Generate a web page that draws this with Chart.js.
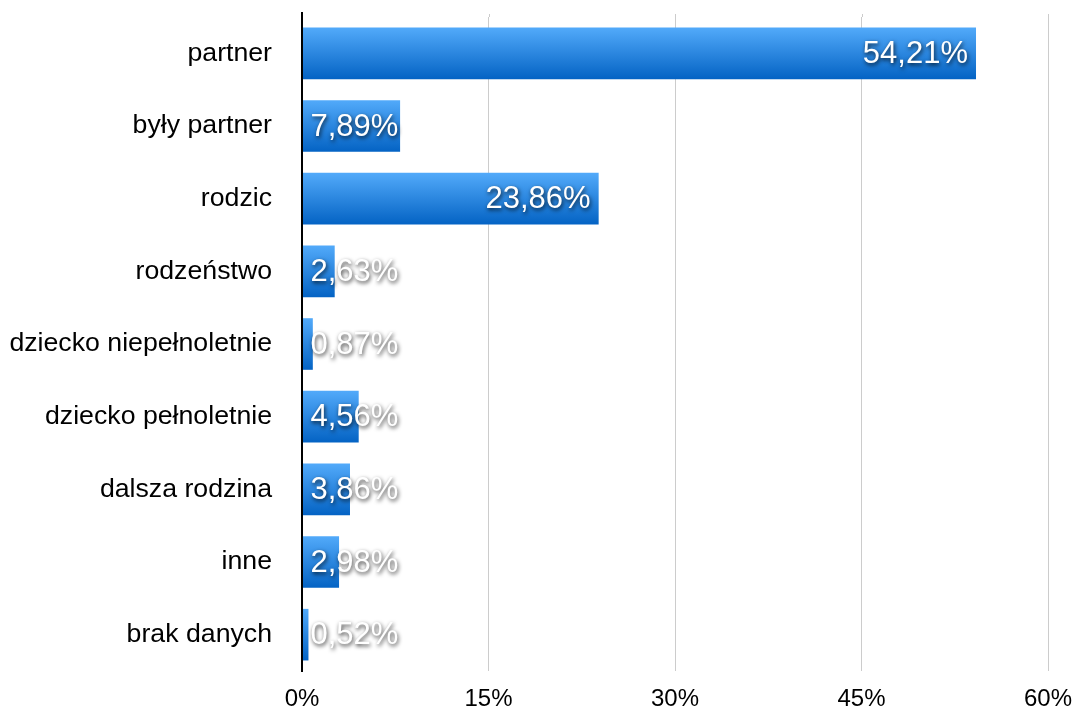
<!DOCTYPE html>
<html>
<head>
<meta charset="utf-8">
<script src="https://cdn.jsdelivr.net/npm/chart.js@4.4.0/dist/chart.umd.min.js"></script>
<style>
html,body{margin:0;padding:0;background:#fff;}
#wrap{width:1077px;height:710px;}
</style>
</head>
<body>
<div id="wrap"><canvas id="c" width="1077" height="710"></canvas></div>
<script>
const categories = ['partner','były partner','rodzic','rodzeństwo','dziecko niepełnoletnie','dziecko pełnoletnie','dalsza rodzina','inne','brak danych'];
const values = [54.21, 7.89, 23.86, 2.63, 0.87, 4.56, 3.86, 2.98, 0.52];
const valueLabels = ['54,21%','7,89%','23,86%','2,63%','0,87%','4,56%','3,86%','2,98%','0,52%'];
const xTicks = [0, 15, 30, 45, 60];

const FONT = '"Liberation Sans", Helvetica, Arial, sans-serif';
const BAR_PCT = 0.71;

function barGradient(ctx) {
  const chart = ctx.chart;
  const y = chart.scales && chart.scales.y;
  if (!y || ctx.dataIndex === undefined) return '#2a85e0';
  const c = y.getPixelForValue(ctx.dataIndex);
  const band = (y.bottom - y.top) / categories.length;
  const h = band * BAR_PCT;
  if (!isFinite(c) || !isFinite(h) || h <= 0) return '#2a85e0';
  const g = chart.ctx.createLinearGradient(0, c - h / 2, 0, c + h / 2);
  g.addColorStop(0, '#52aafa');
  g.addColorStop(1, '#0463c4');
  return g;
}

const labelPlugin = {
  id: 'valueLabels',
  afterDatasetsDraw(chart) {
    const ctx = chart.ctx;
    const meta = chart.getDatasetMeta(0);
    ctx.save();
    ctx.font = '31px ' + FONT;
    ctx.textBaseline = 'middle';
    meta.data.forEach((bar, i) => {
      const txt = valueLabels[i];
      const w = ctx.measureText(txt).width;
      const barW = bar.x - bar.base;
      let x, align;
      if (w + 12 <= barW) { x = bar.x - 8; align = 'right'; }
      else { x = bar.base + 8; align = 'left'; }
      ctx.textAlign = align;
      ctx.shadowColor = 'rgba(0,0,0,0.8)';
      ctx.shadowOffsetX = 1;
      ctx.shadowOffsetY = 2;
      ctx.shadowBlur = 4;
      ctx.fillStyle = '#ffffff';
      ctx.fillText(txt, x, bar.y + 1);
    });
    ctx.restore();
  }
};

const extendPlugin = {
  id: 'extendLines',
  afterDraw(chart) {
    const ctx = chart.ctx;
    const a = chart.chartArea;
    const x = chart.scales.x;
    ctx.save();
    ctx.strokeStyle = '#cccccc';
    ctx.lineWidth = 1;
    xTicks.slice(1).forEach(v => {
      const px = Math.round(x.getPixelForValue(v)) + 0.5;
      ctx.beginPath(); ctx.moveTo(px, 14); ctx.lineTo(px, a.top); ctx.stroke();
    });
    ctx.strokeStyle = '#000000';
    ctx.lineWidth = 2;
    ctx.beginPath(); ctx.moveTo(a.left, 12); ctx.lineTo(a.left, a.bottom + 1); ctx.stroke();
    ctx.restore();
  }
};

new Chart(document.getElementById('c'), {
  type: 'bar',
  data: {
    labels: categories,
    datasets: [{
      data: values,
      backgroundColor: barGradient,
      borderWidth: 0,
      barPercentage: BAR_PCT,
      categoryPercentage: 1.0
    }]
  },
  options: {
    indexAxis: 'y',
    responsive: false,
    animation: false,
    devicePixelRatio: 1,
    layout: { padding: { left: 0, top: 17, right: 29, bottom: 0 } },
    plugins: { legend: { display: false }, tooltip: { enabled: false } },
    scales: {
      x: {
        min: 0, max: 60,
        afterBuildTicks(s) { s.ticks = xTicks.map(v => ({ value: v })); },
        afterFit(s) { s.height = 39; s.paddingLeft = 0; s.paddingRight = 0; },
        grid: { color: '#cccccc', lineWidth: 1, drawTicks: false },
        border: { display: false },
        ticks: {
          padding: 14,
          color: '#000',
          font: { family: FONT, size: 24 },
          callback: v => v + '%'
        }
      },
      y: {
        afterFit(s) { s.width = 302; s.paddingTop = 0; s.paddingBottom = 0; },
        grid: { display: false, drawTicks: false },
        border: { display: true, color: '#000', width: 2 },
        ticks: {
          padding: 30,
          color: '#000',
          font: { family: FONT, size: 26.7 }
        }
      }
    }
  },
  plugins: [labelPlugin, extendPlugin]
});
</script>
</body>
</html>
